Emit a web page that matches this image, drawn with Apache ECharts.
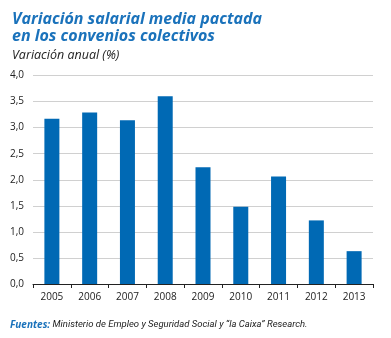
<!DOCTYPE html>
<html><head><meta charset="utf-8">
<script src="https://cdn.jsdelivr.net/npm/echarts@6/dist/echarts.min.js"></script>
<style>html,body{margin:0;padding:0;background:#fff}#c{width:391px;height:338px}</style>
</head><body><div id="c"></div>
<script>
const categories = ['2005','2006','2007','2008','2009','2010','2011','2012','2013'];
const values = [3.17, 3.29, 3.14, 3.60, 2.24, 1.48, 2.06, 1.22, 0.63];
const titleLines = ['Variación salarial media pactada', 'en los convenios colectivos'];
const subtitle = 'Variación anual (%)';
const sourceLabel = 'Fuentes:';
const sourceText = ' Ministerio de Empleo y Seguridad Social y “la Caixa” Research.';

const chart = echarts.init(document.getElementById('c'), null, {renderer:'canvas'});
chart.setOption({
  animation: false,
  backgroundColor: '#fff',
  title: [{
    text: titleLines.join('\n'),
    left: 7, top: 6,
    textStyle: {fontFamily:'Open Sans', fontSize:16, fontWeight:'bold', fontStyle:'italic', color:'#1a72bb', lineHeight:17}
  },{
    text: subtitle,
    left: 7, top: 44,
    textStyle: {fontFamily:'Open Sans', fontSize:12.5, fontWeight:'normal', fontStyle:'italic', color:'#222'}
  },{
    text: '{b|' + sourceLabel + '}{n|' + sourceText + '}',
    left: 5, top: 315,
    textStyle: {rich:{
      b:{fontFamily:'Open Sans', fontSize:10, fontWeight:'bold', fontStyle:'italic', color:'#1a72bb'},
      n:{fontFamily:'Roboto', fontSize:9.5, fontWeight:'normal', fontStyle:'italic', color:'#222'}
    }}
  }],
  grid: {left:33, right:18, top:75.5, bottom:54, containLabel:false},
  xAxis: {
    type:'category', data: categories,
    axisLine:{show:true, lineStyle:{color:'#222', width:1}},
    axisTick:{show:true, length:4, inside:false, alignWithLabel:false, lineStyle:{color:'#222'}},
    axisLabel:{fontFamily:'Open Sans', fontSize:10, color:'#222', margin:8}
  },
  yAxis: {
    type:'value', min:0, max:4, interval:0.5,
    axisLine:{show:false}, axisTick:{show:false},
    splitLine:{lineStyle:{color:'#d0d0d0', width:1}},
    axisLabel:{fontFamily:'Open Sans', fontSize:10, color:'#222', margin:9,
      formatter: v => v.toFixed(1).replace('.', ',')}
  },
  series: [{
    type:'bar', data: values, barWidth:15,
    itemStyle:{color:'#0069b4'}
  }]
});
</script></body></html>
